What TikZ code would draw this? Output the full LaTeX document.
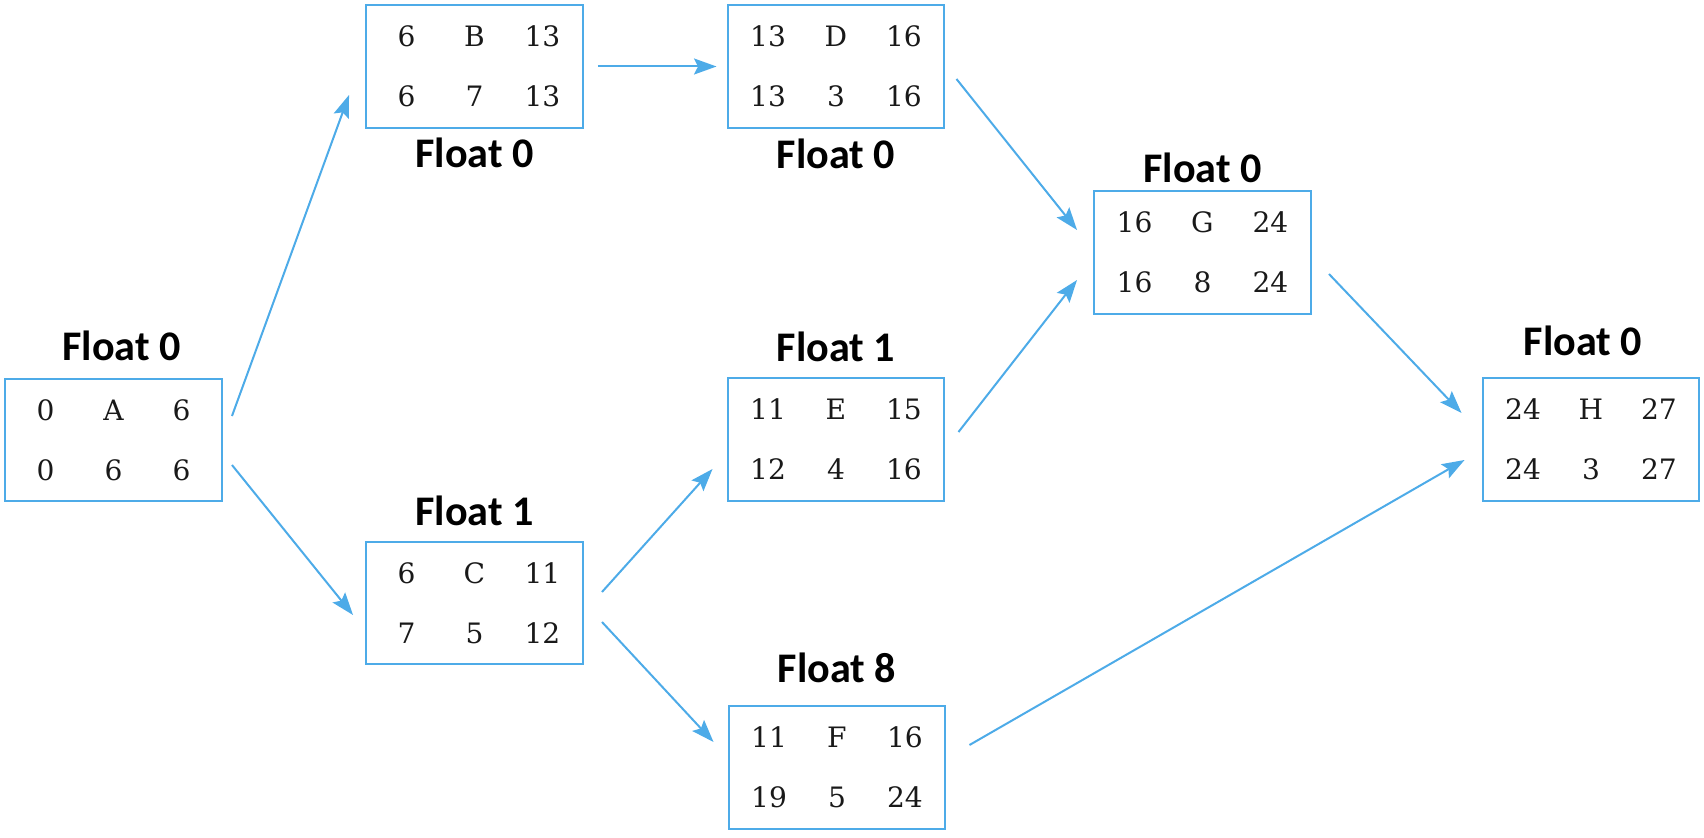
\documentclass[tikz,border=0pt]{standalone}
\usepackage{fontspec}
\newfontfamily\floatfont{Carlito}
\newfontfamily\cellfont{DejaVu Serif}
\usetikzlibrary{positioning,arrows.meta}
\definecolor{netblue}{RGB}{77,171,232}
% one activity box: ES, name, EF / LS, duration, LF
\newcommand{\actbox}[6]{%
	\makebox[1.36cm]{#1}\makebox[1.36cm]{#2}\makebox[1.36cm]{#3}\\
	\makebox[1.36cm]{#4}\makebox[1.36cm]{#5}\makebox[1.36cm]{#6}}
\begin{document}
\begin{tikzpicture}[x=0.02cm,y=-0.02cm,
				act/.style = {shape=rectangle, draw=netblue, line width=0.04cm,
					minimum width=4.34cm, minimum height=2.46cm, inner sep=0pt,
					align=center, text=black!90, font=\cellfont\fontsize{16}{34}\selectfont},
				flt/.style = {inner sep=0pt, font=\floatfont\bfseries\fontsize{24}{28}\selectfont},
				arr/.style = {draw=netblue, line width=0.04cm,
					-{Stealth[length=0.45cm,width=0.32cm,inset=0.08cm]}}]
				\useasboundingbox (0,0) rectangle (1704,838);
				\node[act] (A) at (113.5,440)  {\actbox{0}{A}{6}{0}{6}{6}};
				\node[act] (B) at (474.5,66.5) {\actbox{6}{B}{13}{6}{7}{13}};
				\node[act] (C) at (474.5,603)  {\actbox{6}{C}{11}{7}{5}{12}};
				\node[act] (D) at (836,66.5)   {\actbox{13}{D}{16}{13}{3}{16}};
				\node[act] (E) at (836,439.5)  {\actbox{11}{E}{15}{12}{4}{16}};
				\node[act] (F) at (837,767.5)  {\actbox{11}{F}{16}{19}{5}{24}};
				\node[act] (G) at (1202.5,252.5) {\actbox{16}{G}{24}{16}{8}{24}};
				\node[act] (H) at (1591,439.5) {\actbox{24}{H}{27}{24}{3}{27}};
				% floats
				\node[flt, above=0.32cm of A, xshift=0.16cm] (fA) {Float 0};
				\node[flt, below=0.18cm of B] (fB) {Float 0};
				\node[flt, above=0.28cm of C] (fC) {Float 1};
				\node[flt, below=0.2cm of D] (fD) {Float 0};
				\node[flt, above=0.3cm of E] (fE) {Float 1};
				\node[flt, above=0.44cm of F] (fF) {Float 8};
				\node[flt, above=0.14cm of G] (fG) {Float 0};
				\node[flt, above=0.42cm of H, xshift=-0.16cm] (fH) {Float 0};
				% links
				\draw[arr] ([shift={(9,-24)}]A.east) -- ([shift={(-16,28.5)}]B.west);
				\draw[arr] ([shift={(9,25)}]A.east) -- ([shift={(-12,12)}]C.west);
				\draw[arr] ([shift={(14,0)}]B.east) -- ([shift={(-10,0)}]D.west);
				\draw[arr] ([shift={(18,-11)}]C.east) -- ([shift={(-14,29.5)}]E.west);
				\draw[arr] ([shift={(18,19)}]C.east) -- ([shift={(-14,-25.5)}]F.west);
				\draw[arr] ([shift={(11,12.5)}]D.east) -- ([shift={(-16,-22.5)}]G.west);
				\draw[arr] ([shift={(13,-7.5)}]E.east) -- ([shift={(-16,27.5)}]G.west);
				\draw[arr] ([shift={(17,21.5)}]G.east) -- ([shift={(-20,-26.5)}]H.west);
				\draw[arr] ([shift={(23,-22.5)}]F.east) -- ([shift={(-17,20.5)}]H.west);
			\end{tikzpicture}
\end{document}
